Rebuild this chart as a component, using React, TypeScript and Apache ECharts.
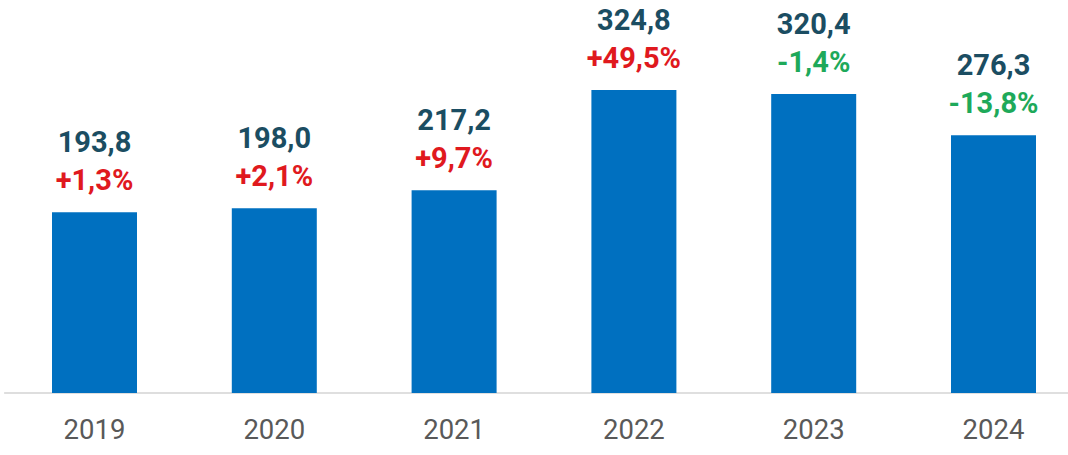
import React, { useEffect, useRef } from "react";
import * as echarts from "echarts";

const categories = ["2019", "2020", "2021", "2022", "2023", "2024"];
const values = [193.8, 198.0, 217.2, 324.8, 320.4, 276.3];
const valueLabels = ["193,8", "198,0", "217,2", "324,8", "320,4", "276,3"];
const changeLabels = ["+1,3%", "+2,1%", "+9,7%", "+49,5%", "-1,4%", "-13,8%"];

export default function App() {
  const ref = useRef<HTMLDivElement>(null);
  useEffect(() => {
    if (!ref.current) return;
    const chart = echarts.init(ref.current, undefined, { renderer: "svg" });
    chart.setOption({
      animation: false,
      backgroundColor: "#ffffff",
      textStyle: { fontFamily: "Roboto" },
      grid: { left: 4.6, top: 19.8, width: 1078.8, height: 373.2, containLabel: false, outerBoundsMode: "none" },
      xAxis: {
        type: "category",
        data: categories,
        axisLine: { show: true, lineStyle: { color: "#d4d4d4", width: 1.5 } },
        axisTick: { show: false },
        axisLabel: { color: "#595959", fontSize: 27.5, margin: 22, fontFamily: "Roboto" },
      },
      yAxis: {
        type: "value",
        min: 0,
        max: 400,
        show: false,
        splitLine: { show: false },
      },
      series: [
        {
          type: "bar",
          barWidth: 85,
          data: values.map((v, i) => ({
            value: v,
            label: {
              show: true,
              position: "top",
              distance: 13,
              formatter: `{v|${valueLabels[i]}}\n{${changeLabels[i].startsWith("-") ? "g" : "r"}|${changeLabels[i]}}`,
              rich: {
                v: { color: "#1b4d62", fontSize: 29, fontWeight: "bold", lineHeight: 38, fontFamily: "Roboto" },
                r: { color: "#e0191e", fontSize: 29, fontWeight: "bold", lineHeight: 38, fontFamily: "Roboto" },
                g: { color: "#1ea95a", fontSize: 29, fontWeight: "bold", lineHeight: 38, fontFamily: "Roboto" },
              },
            },
          })),
          itemStyle: { color: "#0070c0" },
        },
      ],
    });
    return () => chart.dispose();
  }, []);
  return (
    <div style={{ position: "fixed", left: 0, top: 0, width: 1068, height: 455, overflow: "hidden", background: "#fff" }}>
      <div ref={ref} style={{ width: 1100, height: 455 }} />
    </div>
  );
}
